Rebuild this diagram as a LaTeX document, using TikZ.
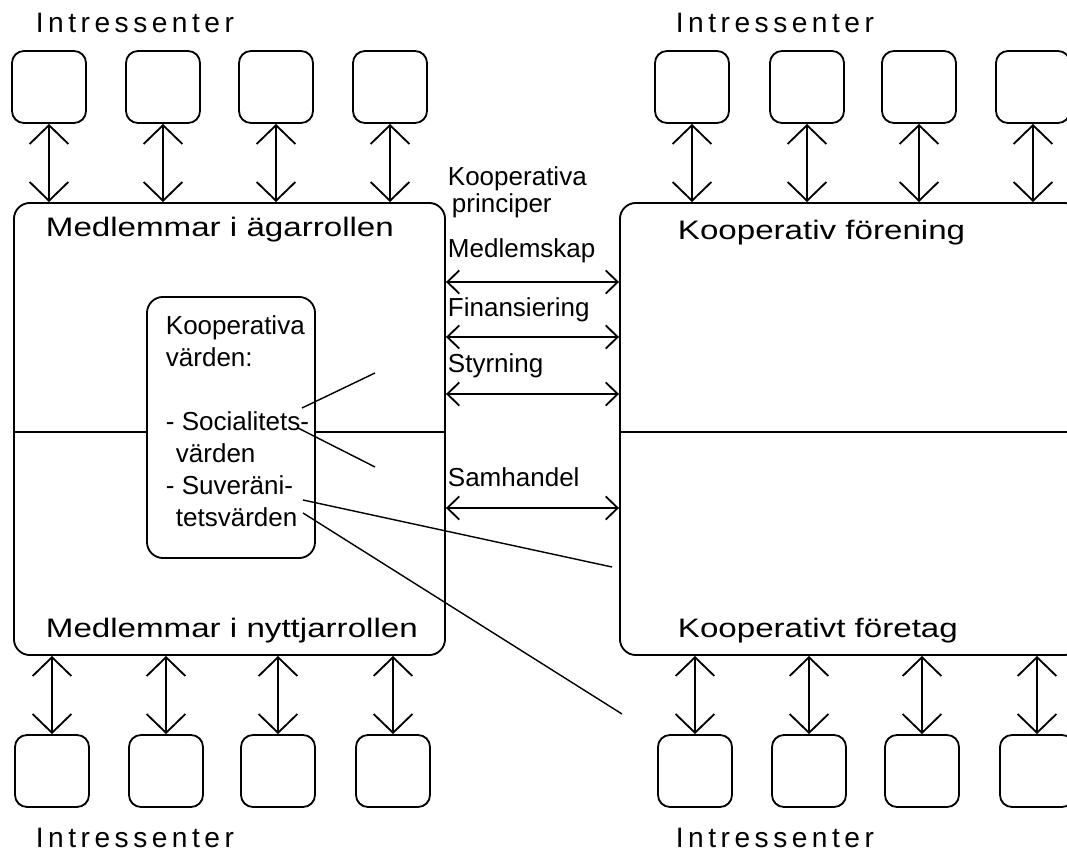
\documentclass[tikz,border=0pt]{standalone}
\usepackage{fontspec}
\setmainfont{Liberation Sans}
\newfontfamily\widefont[FakeStretch=1.24]{Liberation Sans}
\newfontfamily\spacedfont[LetterSpace=16]{Liberation Sans}
\usetikzlibrary{arrows.meta}

\begin{document}
\begin{tikzpicture}[x=0.025cm,y=-0.025cm,line width=1.3pt,
  every node/.style={inner sep=0pt},
  intressent/.style={draw,rounded corners=0.3cm,minimum width=1.85cm,minimum height=1.8cm},
  rollbox/.style={draw,rounded corners=0.4cm},
  rubrik/.style={font=\widefont\fontsize{19}{23}\selectfont,anchor=base west},
  etikett/.style={font=\fontsize{18.5}{19}\selectfont,anchor=base west},
  grupp/.style={font=\spacedfont\fontsize{20}{24}\selectfont,anchor=base west},
  bigarrow/.style={{Straight Barb[length=0.47cm,width=0.97cm]}-{Straight Barb[length=0.47cm,width=0.97cm]}},
  smallarrow/.style={{Straight Barb[length=0.3cm,width=0.58cm]}-{Straight Barb[length=0.3cm,width=0.58cm]}}]
\useasboundingbox (0,0) rectangle (1067,852);
\clip (0,0) rectangle (1067,852);
% the two halves
\node[rollbox,minimum width=10.775cm,minimum height=11.3cm] (agare) at (229.5,429) {};
\node[rollbox,minimum width=11.5cm,minimum height=11.3cm] (forening) at (850,429) {};
\node[rollbox,minimum width=4.2cm,minimum height=6.525cm] (varden) at (231,427.5) {};
\coordinate (mitt) at (0,432);
\draw (agare.west |- mitt) -- (varden.west |- mitt);
\draw (varden.east |- mitt) -- (agare.east |- mitt);
\draw (forening.west |- mitt) -- (forening.east |- mitt);
\node[rubrik] (agarroll) at (45,237) {Medlemmar i ägarrollen};
\node[rubrik] (nyttjarroll) at (45,637) {Medlemmar i nyttjarrollen};
\node[rubrik] (forenlabel) at (677,240) {Kooperativ förening};
\node[rubrik] (foretag) at (677,637) {Kooperativt företag};
\node[font=\fontsize{18.5}{22.7}\selectfont,align=left,anchor=north west] (vardentext) at (165,315)
  {Kooperativa\\värden:\\[22.7pt]- Socialitets-\\\hspace{0.25cm}värden\\- Suveräni-\\\hspace{0.25cm}tetsvärden};
% principles
\node[etikett,align=left,anchor=north west] (principer) at (447,166) {Kooperativa\\\hspace{0.1cm}principer};
\node[etikett] (medlemskap) at (447,258) {Medlemskap};
\node[etikett] (finans) at (447,317) {Finansiering};
\node[etikett] (styrning) at (447,373) {Styrning};
\node[etikett] (samhandel) at (447,487) {Samhandel};
\coordinate (y1) at (0,282);
\coordinate (y2) at (0,337);
\coordinate (y3) at (0,394);
\coordinate (y4) at (0,508);
\foreach \r in {y1,y2,y3,y4}
  \draw[smallarrow] (agare.east |- \r) -- (forening.west |- \r);
% lines from the values
\coordinate (s1) at (302,408); \coordinate (e1) at (375,373);
\coordinate (s2) at (298,428); \coordinate (e2) at (375,467);
\coordinate (s3) at (303,500); \coordinate (e3) at (612,567);
\coordinate (s4) at (303,513); \coordinate (e4) at (622,714);
\draw[line width=1pt] (s1) -- (e1);
\draw[line width=1pt] (s2) -- (e2);
\draw[line width=1pt] (s3) -- (e3);
\draw[line width=1pt] (s4) -- (e4);
% stakeholders
\foreach \i/\x in {1/49,2/163,3/276,4/390} {
  \node[intressent] (tl\i) at (\x,87) {};
  \draw[bigarrow] (tl\i.south) -- (tl\i.south |- agare.north);
}
\foreach \i/\x in {1/692,2/807,3/919,4/1033} {
  \node[intressent] (tr\i) at (\x,87) {};
  \draw[bigarrow] (tr\i.south) -- (tr\i.south |- forening.north);
}
\foreach \i/\x in {1/52,2/166,3/278,4/393} {
  \node[intressent] (bl\i) at (\x,771) {};
  \draw[bigarrow] (bl\i.north |- agare.south) -- (bl\i.north);
}
\foreach \i/\x in {1/695,2/809,3/922,4/1037} {
  \node[intressent] (br\i) at (\x,771) {};
  \draw[bigarrow] (br\i.north |- forening.south) -- (br\i.north);
}
\node[grupp] (int1) at (35,33) {Intressenter};
\node[grupp] (int2) at (675,33) {Intressenter};
\node[grupp] (int3) at (35,847) {Intressenter};
\node[grupp] (int4) at (675,847) {Intressenter};
\end{tikzpicture}
\end{document}
